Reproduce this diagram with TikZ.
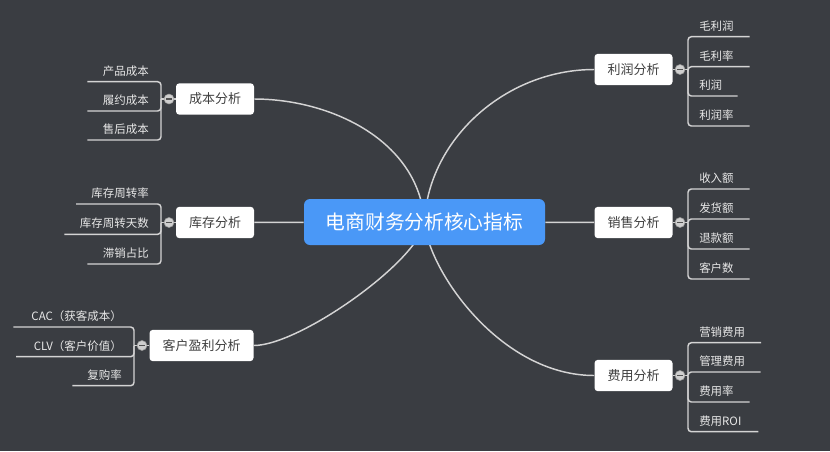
\documentclass[tikz,border=0pt]{standalone}
\usepackage{fontspec}
\setmainfont{Noto Sans CJK SC}
\usetikzlibrary{positioning}
\definecolor{mmBack}{HTML}{3A3D42}
\definecolor{mmBlue}{HTML}{4A98F7}
\definecolor{mmInk}{HTML}{404040}
\definecolor{mmLeaf}{HTML}{E8E8E8}
\definecolor{mmLine}{HTML}{D4D4D4}
\definecolor{mmFold}{HTML}{CFCFCF}
\definecolor{mmFoldR}{HTML}{9A9A9A}
\definecolor{mmMinus}{HTML}{505050}
\pgfdeclarelayer{canvas}
\pgfdeclarelayer{links}
\pgfsetlayers{canvas,links,main}

\begin{document}
\begin{tikzpicture}[
  x=0.75pt, y=-0.75pt,
  every node/.style={align=center},
  root/.style={
    rectangle, rounded corners=4.5pt, fill=mmBlue, text=white,
    font=\fontsize{14.8}{17}\selectfont,
    minimum width=180.75pt, minimum height=34.5pt
  },
  topic/.style={
    rectangle, rounded corners=2.5pt, fill=white, text=mmInk,
    font=\fontsize{9.75}{11}\selectfont,
    minimum width=58.5pt, minimum height=23.5pt
  },
  fold/.style={
    circle, fill=mmFold, draw=mmFoldR, line width=0.4pt,
    inner sep=0pt, minimum size=7.5pt, text=mmMinus
  },
  leafR/.style={
    anchor=south west, inner xsep=8.25pt, inner ysep=4pt,
    text width=#1, align=left, text=mmLeaf,
    font=\fontsize{8.6}{10}\selectfont
  },
  leafL/.style={
    anchor=south east, inner xsep=9pt, inner ysep=4pt,
    text width=#1, align=right, text=mmLeaf,
    font=\fontsize{8.6}{10}\selectfont
  },
  link/.style={draw=mmLine, line width=1.1pt},
  twig/.style={draw=mmLine, line width=1.1pt, rounded corners=2.5pt}
]
 \useasboundingbox (0,0) rectangle (830,451);
 \begin{pgfonlayer}{canvas}
  \fill[mmBack] (0,0) rectangle (830,451);
 \end{pgfonlayer}

 % Centre
 \node[root] (root) at (424.5,222) {电商财务分析核心指标};

 % Left side -- 3 topics
 \node[topic] (cb) at (215,99) {成本分析};
 \node[fold] (cbf) at (169,99) {\rule[-0.5pt]{4pt}{1pt}};
 \coordinate (cbk) at (161,99);
 \node[leafL=36.75pt] (cb1) at (161,81.7) {产品成本};
 \node[leafL=36.75pt] (cb2) at (161,111) {履约成本};
 \node[leafL=36.75pt] (cb3) at (161,140) {售后成本};

 \node[topic] (kc) at (215,222.5) {库存分析};
 \node[fold] (kcf) at (169,222.5) {\rule[-0.5pt]{4pt}{1pt}};
 \coordinate (kck) at (161,222.5);
 \node[leafL=45.2pt] (kc1) at (161,204) {库存周转率};
 \node[leafL=54pt] (kc2) at (161,234.3) {库存周转天数};
 \node[leafL=36.75pt] (kc3) at (161,264) {滞销占比};

 \node[topic, minimum width=78pt] (kh) at (201.5,345.5) {客户盈利分析};
 \node[fold] (khf) at (142,345.5) {\rule[-0.5pt]{4pt}{1pt}};
 \coordinate (khk) at (134,345.5);
 \node[leafL=72pt] (kh1) at (134,327) {CAC（获客成本）};
 \node[leafL=70pt] (kh2) at (134,356.7) {CLV（客户价值）};
 \node[leafL=27.75pt] (kh3) at (134,385.7) {复购率};

 % Right side -- 3 topics
 \node[topic] (lr) at (633.5,69.5) {利润分析};
 \node[fold] (lrf) at (680,69.5) {\rule[-0.5pt]{4pt}{1pt}};
 \coordinate (lrk) at (688,69.5);
 \node[leafR=29.25pt] (lr1) at (688,36.7) {毛利润};
 \node[leafR=29.25pt] (lr2) at (688,66.7) {毛利率};
 \node[leafR=20.25pt] (lr3) at (688,96) {利润};
 \node[leafR=29.25pt] (lr4) at (688,126) {利润率};

 \node[topic] (xs) at (633.5,222.5) {销售分析};
 \node[fold] (xsf) at (680,222.5) {\rule[-0.5pt]{4pt}{1pt}};
 \coordinate (xsk) at (688,222.5);
 \node[leafR=29.25pt] (xs1) at (688,189) {收入额};
 \node[leafR=29.25pt] (xs2) at (688,219) {发货额};
 \node[leafR=29.25pt] (xs3) at (688,249) {退款额};
 \node[leafR=29.25pt] (xs4) at (688,279) {客户数};

 \node[topic] (fy) at (633.5,375.5) {费用分析};
 \node[fold] (fyf) at (680,375.5) {\rule[-0.5pt]{4pt}{1pt}};
 \coordinate (fyk) at (688,375.5);
 \node[leafR=38pt] (fy1) at (688,342.7) {营销费用};
 \node[leafR=37.5pt] (fy2) at (688,372) {管理费用};
 \node[leafR=29.25pt] (fy3) at (688,402) {费用率};
 \node[leafR=35.8pt] (fy4) at (688,431.7) {费用ROI};

 \begin{pgfonlayer}{links}
  % main branches
  \draw[link] (root.center) .. controls (419,140) and (330,99) .. (cb.east);
  \draw[link] (root) -- (kc);
  \draw[link] (root.center) .. controls (420,260) and (300,345.5) .. (kh.east);
  \draw[link] (root.center) .. controls (428,140) and (505,69.5) .. (lr.west);
  \draw[link] (root) -- (xs);
  \draw[link] (root.center) .. controls (428,270) and (500,375.5) .. (fy.west);

  % brackets
  \draw[link] (cb) -- (cbk); \draw[link] (kc) -- (kck); \draw[link] (kh) -- (khk);
  \draw[link] (lr) -- (lrk); \draw[link] (xs) -- (xsk); \draw[link] (fy) -- (fyk);

  \draw[twig] (cbk) |- (cb1.south west); \draw[twig] (cbk) |- (cb2.south west);
  \draw[twig] (cbk) |- (cb3.south west);
  \draw[twig] (kck) |- (kc1.south west); \draw[twig] (kck) |- (kc2.south west);
  \draw[twig] (kck) |- (kc3.south west);
  \draw[twig] (khk) |- (kh1.south west); \draw[twig] (khk) |- (kh2.south west);
  \draw[twig] (khk) |- (kh3.south west);

  \draw[twig] (lrk) |- (lr1.south east); \draw[twig] (lrk) |- (lr2.south east);
  \draw[twig] (lrk) |- (lr3.south east); \draw[twig] (lrk) |- (lr4.south east);
  \draw[twig] (xsk) |- (xs1.south east); \draw[twig] (xsk) |- (xs2.south east);
  \draw[twig] (xsk) |- (xs3.south east); \draw[twig] (xsk) |- (xs4.south east);
  \draw[twig] (fyk) |- (fy1.south east); \draw[twig] (fyk) |- (fy2.south east);
  \draw[twig] (fyk) |- (fy3.south east); \draw[twig] (fyk) |- (fy4.south east);
 \end{pgfonlayer}
\end{tikzpicture}
\end{document}
